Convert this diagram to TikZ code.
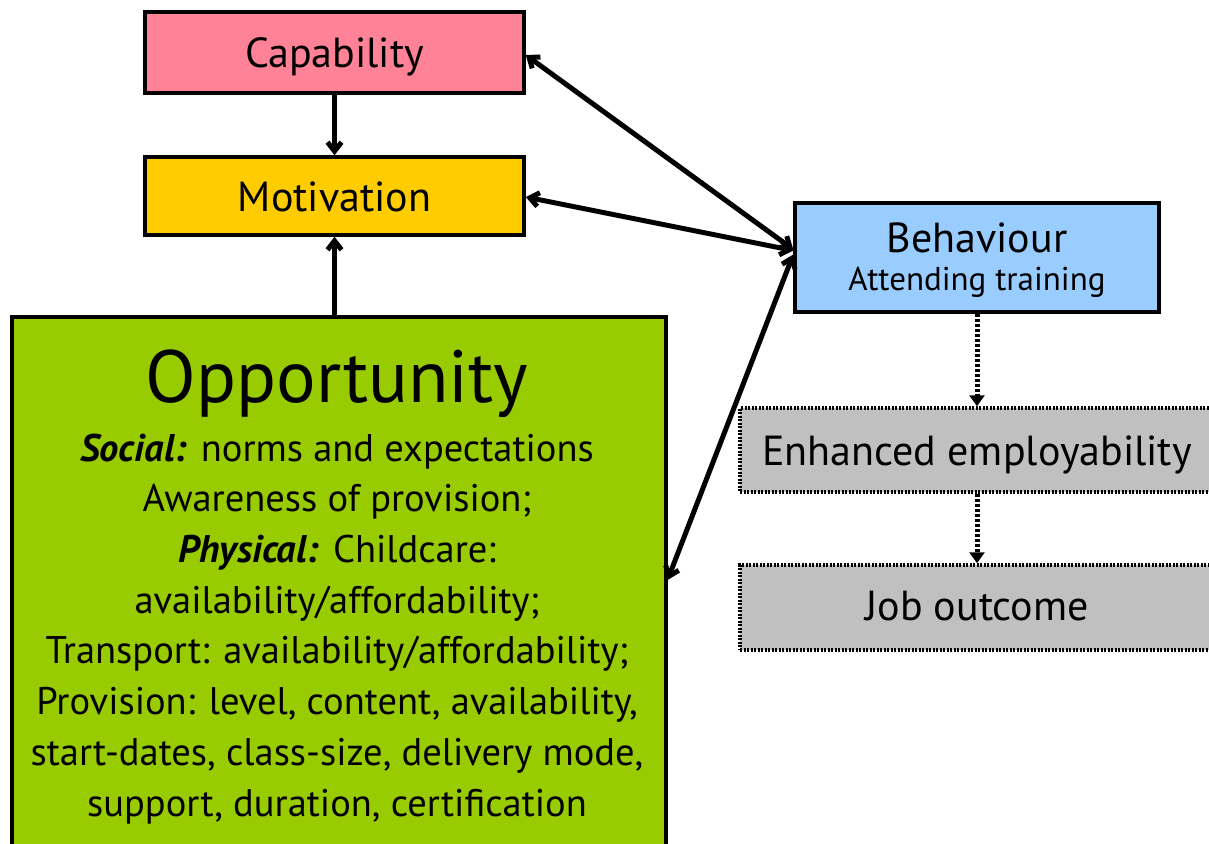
\documentclass[tikz,border=0pt]{standalone}
\usepackage{fontspec}
\setmainfont{PT Sans}
\usetikzlibrary{arrows.meta}
\definecolor{cappink}{RGB}{255,130,150}
\definecolor{motyellow}{RGB}{255,204,0}
\definecolor{oppgreen}{RGB}{153,204,0}
\definecolor{behblue}{RGB}{153,204,255}
\definecolor{outgrey}{RGB}{192,192,192}
\begin{document}
\begin{tikzpicture}[x=1pt,y=-1pt,
  box/.style={draw=black, line width=3.5pt, rectangle, inner sep=0pt},
  dotbox/.style={draw=black, line width=3.5pt, dash pattern=on 2pt off 1.5pt, rectangle, inner sep=0pt},
  conn/.style={line width=5pt, -{Straight Barb[length=9pt,width=14pt]}},
  biconn/.style={line width=5pt, {Straight Barb[length=9pt,width=14pt]}-{Straight Barb[length=9pt,width=14pt]}},
  dotconn/.style={line width=5pt, dash pattern=on 3pt off 2pt, -{Triangle[length=11pt,width=15pt]}},
  lbl/.style={font=\fontsize{42}{46}\selectfont}]
\useasboundingbox (0,0) rectangle (1209,843);
\begin{scope}
\clip (0,0) rectangle (1209,843);
\node (cap) [box, fill=cappink, minimum width=379pt, minimum height=81pt] at (334.5,52.5) {};
\node (captext) [lbl, anchor=base] at (334.5,67) {Capability};
\node (mot) [box, fill=motyellow, minimum width=379pt, minimum height=78pt] at (334.5,196) {};
\node (mottext) [lbl, anchor=base] at (334.5,211) {Motivation};
\node (opp) [box, fill=oppgreen, minimum width=654pt, minimum height=600pt, anchor=north west] at (10,315) {};
\node (beh) [box, fill=behblue, minimum width=364pt, minimum height=109pt] at (977,257.5) {};
\node (behtitle) [lbl, anchor=base] at (977,252) {Behaviour};
\node (behsub) [font=\fontsize{33}{36}\selectfont, anchor=base] at (977,290) {Attending training};
\node (enh) [dotbox, fill=outgrey, minimum width=474pt, minimum height=84pt] at (977,450) {};
\node (enhtext) [lbl, anchor=base] at (977,465) {Enhanced employability};
\node (job) [dotbox, fill=outgrey, minimum width=474pt, minimum height=85pt] at (977,607.5) {};
\node (jobtext) [lbl, anchor=base] at (977,620) {Job outcome};
\node (opptitle) [font=\fontsize{74}{76}\selectfont, anchor=base] at (337,402) {Opportunity};
\node (oppbody) [font=\fontsize{38.5}{50.7}\selectfont, align=center, anchor=base] at (337,816)
  {\textbf{\textit{Social:}} norms and expectations\\
   Awareness of provision;\\
   \textbf{\textit{Physical:}} Childcare:\\
   availability/affordability;\\
   Transport: availability/affordability;\\
   Provision: level, content, availability,\\
   start-dates, class-size, delivery mode,\\
   support, duration, certification};
\end{scope}
\draw[conn] (cap.south) -- (mot.north);
\draw[conn] (opp.north -| mot.south) -- (mot.south);
\draw[biconn] (cap.east |- 0,55) -- ([yshift=8pt]beh.west);
\draw[biconn] (mot.east |- 0,197) -- ([yshift=7pt]beh.west);
\draw[biconn] ([yshift=-265pt]opp.north east) -- ([yshift=3pt]beh.west);
\draw[dotconn] (beh.south) -- (enh.north);
\draw[dotconn] (enh.south) -- (job.north);
\end{tikzpicture}
\end{document}
